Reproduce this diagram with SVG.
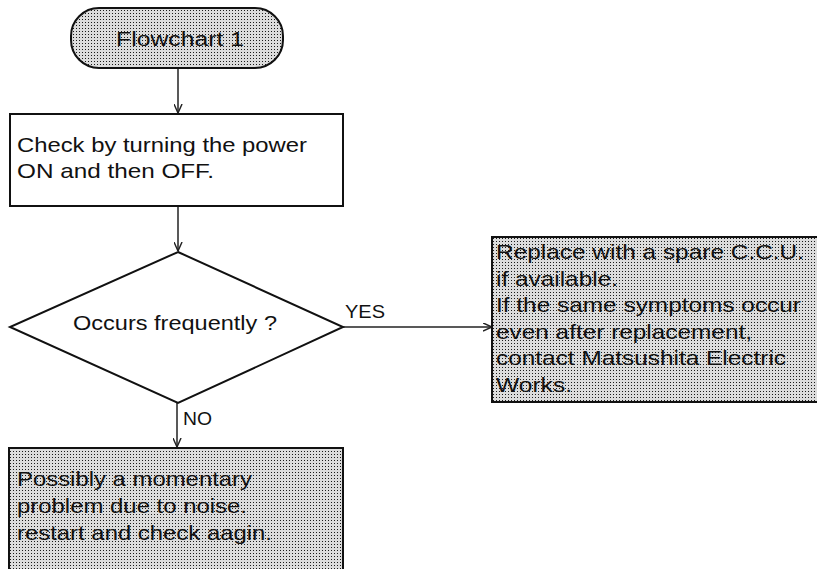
<svg xmlns="http://www.w3.org/2000/svg" width="817" height="569" viewBox="0 0 817 569">
  <style>
    .box { stroke: #111; stroke-width: 2; }
    .plain { fill: #fff; }
    .shade { fill: url(#dots); }
    .link { fill: none; stroke: #222; stroke-width: 1.5; }
    text { font-family: "Liberation Sans", Arial, Helvetica, sans-serif; fill: #111; }
    .body { font-size: 21px; }
    .tag { font-size: 19px; }
  </style>
  <defs>
    <!-- halftone screen used for the shaded boxes -->
    <pattern id="dots" width="3" height="3" patternUnits="userSpaceOnUse">
      <rect width="3" height="3" fill="#dcdcdc"/>
      <rect x="1" y="1" width="1" height="1" fill="#1a1a1a"/>
    </pattern>
    <marker id="arrow" viewBox="0 0 10 10" refX="10" refY="5" markerWidth="9" markerHeight="9" markerUnits="userSpaceOnUse" orient="auto">
      <path d="M0,0.5 L10,5 L0,9.5" fill="none" stroke="#222" stroke-width="1.6"/>
    </marker>
  </defs>

  <g id="connectors">
    <line class="link" x1="178" y1="68" x2="178" y2="113" marker-end="url(#arrow)"/>
    <line class="link" x1="178" y1="206" x2="178" y2="251" marker-end="url(#arrow)"/>
    <line class="link" x1="343" y1="327" x2="492" y2="327" marker-end="url(#arrow)"/>
    <line class="link" x1="177" y1="403" x2="177" y2="447" marker-end="url(#arrow)"/>
    <text class="tag" x="345" y="318" textLength="40" lengthAdjust="spacingAndGlyphs">YES</text>
    <text class="tag" x="183" y="425" textLength="29" lengthAdjust="spacingAndGlyphs">NO</text>
  </g>

  <g id="start">
    <rect class="box shade" x="71" y="8" width="212" height="60" rx="28" ry="28"/>
    <text x="116" y="46" font-size="20" textLength="128" lengthAdjust="spacingAndGlyphs">Flowchart 1</text>
  </g>

  <g id="check-power">
    <rect class="box plain" x="10" y="114" width="333" height="92"/>
    <text class="body" x="17" y="152" textLength="290" lengthAdjust="spacingAndGlyphs">Check by turning the power</text>
    <text class="body" x="17" y="178" textLength="197" lengthAdjust="spacingAndGlyphs">ON and then OFF.</text>
  </g>

  <g id="occurs-frequently">
    <polygon class="box plain" points="178,252 343,327 178,403 10,327"/>
    <text class="body" x="73" y="330" textLength="204" lengthAdjust="spacingAndGlyphs">Occurs frequently ?</text>
  </g>

  <g id="replace-ccu">
    <rect class="box shade" x="492" y="237" width="330" height="165"/>
    <text class="body" x="496" y="259" textLength="308" lengthAdjust="spacingAndGlyphs">Replace with a spare C.C.U.</text>
    <text class="body" x="496" y="285.5" textLength="122" lengthAdjust="spacingAndGlyphs">if available.</text>
    <text class="body" x="496" y="312" textLength="305" lengthAdjust="spacingAndGlyphs">If the same symptoms occur</text>
    <text class="body" x="496" y="338.5" textLength="256" lengthAdjust="spacingAndGlyphs">even after replacement,</text>
    <text class="body" x="496" y="365" textLength="290" lengthAdjust="spacingAndGlyphs">contact Matsushita Electric</text>
    <text class="body" x="496" y="391.5" textLength="76" lengthAdjust="spacingAndGlyphs">Works.</text>
  </g>

  <g id="momentary-problem">
    <rect class="box shade" x="9" y="448" width="334" height="130"/>
    <text class="body" x="17" y="486" textLength="235" lengthAdjust="spacingAndGlyphs">Possibly a momentary</text>
    <text class="body" x="17" y="513" textLength="230" lengthAdjust="spacingAndGlyphs">problem due to noise.</text>
    <text class="body" x="17" y="540" textLength="255" lengthAdjust="spacingAndGlyphs">restart and check aagin.</text>
  </g>
</svg>
